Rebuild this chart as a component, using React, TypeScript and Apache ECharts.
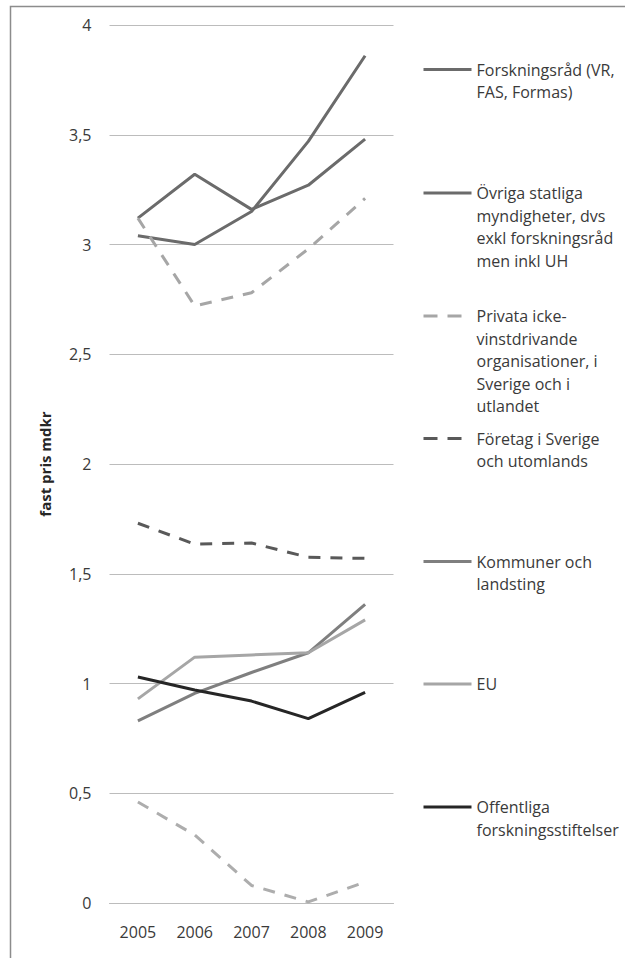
import React, { useEffect, useRef } from "react";
import * as echarts from "echarts";

const years = ["2005", "2006", "2007", "2008", "2009"];
const yTicks = [0, 0.5, 1, 1.5, 2, 2.5, 3, 3.5, 4];

const forskningsrad = [3.04, 3.0, 3.15, 3.47, 3.86];
const ovrigaStatliga = [3.12, 3.32, 3.16, 3.27, 3.48];
const privata = [3.12, 2.72, 2.78, 2.98, 3.21];
const foretag = [1.73, 1.635, 1.64, 1.575, 1.57];
const kommuner = [0.83, 0.955, 1.05, 1.14, 1.36];
const eu = [0.93, 1.12, 1.13, 1.14, 1.29];
const offentliga = [1.03, 0.97, 0.92, 0.84, 0.96];
const ovrigt = [0.46, 0.31, 0.08, 0.005, 0.095];

const names = [
  "Forskningsråd (VR,\nFAS, Formas)",
  "Övriga statliga\nmyndigheter, dvs\nexkl forskningsråd\nmen inkl UH",
  "Privata icke-\nvinstdrivande\norganisationer, i\nSverige och i\nutlandet",
  "Företag i Sverige\noch utomlands",
  "Kommuner och\nlandsting",
  "EU",
  "Offentliga\nforskningsstiftelser",
];
const dashedNames = [names[2], names[3]];
const legendCenters = [69.5, 193, 316, 438.5, 561.5, 684, 807];

const FONT = "'Open Sans', sans-serif";
const LH = 22.5;

export default function App() {
  const ref = useRef<HTMLDivElement>(null);
  useEffect(() => {
    const chart = echarts.init(ref.current!, undefined, { renderer: "svg" });
    const mk = (name: string, data: number[], color: string, dashed: boolean) => ({
      type: "line",
      name,
      data,
      symbol: "none",
      showSymbol: false,
      lineStyle: { color, width: 3, type: dashed ? [12, 10] : "solid" },
      itemStyle: { color },
      emphasis: { disabled: true },
    });
    const series = [
      mk(names[0], forskningsrad, "#6b6b6b", false),
      mk(names[1], ovrigaStatliga, "#6b6b6b", false),
      mk(names[2], privata, "#a6a6a6", true),
      mk(names[3], foretag, "#595959", true),
      mk(names[4], kommuner, "#7f7f7f", false),
      mk(names[5], eu, "#a6a6a6", false),
      mk(names[6], offentliga, "#262626", false),
      mk("Övrigt", ovrigt, "#adadad", true),
    ];
    const legends = names.map((n, i) => {
      const lines = n.split("\n").length;
      return {
        show: true,
        data: [n],
        orient: "vertical",
        left: 422,
        top: legendCenters[i] - ((2 * lines - 1) * LH) / 2,
        itemWidth: 48,
        itemHeight: 14,
        itemGap: 0,
        padding: 0,
        selectedMode: false,
        itemStyle: { opacity: 0 },
        lineStyle: {
          width: 3,
          type: dashedNames.includes(n) ? [14, 10] : "solid",
        },
        formatter: (name: string) => "\n".repeat(lines - 1) + name,
        textStyle: {
          fontFamily: FONT,
          fontSize: 16,
          lineHeight: LH,
          color: "#3a3a3a",
        },
      };
    });
    chart.setOption({
      animation: false,
      backgroundColor: "#ffffff",
      grid: { left: 109.5, right: 231.5, top: 25, bottom: 55 },
      legend: legends,
      graphic: [
        {
          type: "rect",
          left: 8,
          top: 4,
          shape: { width: 640, height: 980 },
          style: { fill: "none", stroke: "#8c8c8c", lineWidth: 1.5 },
          silent: true,
        },
      ],
      xAxis: {
        type: "category",
        data: years,
        boundaryGap: true,
        axisLine: { show: true, lineStyle: { color: "#bcbcbc", width: 1 } },
        axisTick: { show: false },
        axisLabel: { fontFamily: FONT, fontSize: 16, color: "#3a3a3a", margin: 21 },
      },
      yAxis: {
        type: "value",
        min: yTicks[0],
        max: yTicks[yTicks.length - 1],
        interval: 0.5,
        name: "fast pris mdkr",
        nameLocation: "middle",
        nameGap: 57,
        nameTextStyle: { fontFamily: FONT, fontSize: 15, fontWeight: "bold", color: "#262626" },
        axisLine: { show: false },
        axisTick: { show: false },
        splitLine: { show: true, lineStyle: { color: "#bcbcbc", width: 1 } },
        axisLabel: {
          fontFamily: FONT,
          fontSize: 16,
          color: "#3a3a3a",
          margin: 18,
          formatter: (v: number) => String(v).replace(".", ","),
        },
      },
      series,
    });
    return () => chart.dispose();
  }, []);
  return (
    <div
      ref={ref}
      style={{ position: "absolute", left: 0, top: 0, width: 625, height: 958, background: "#fff" }}
    />
  );
}
